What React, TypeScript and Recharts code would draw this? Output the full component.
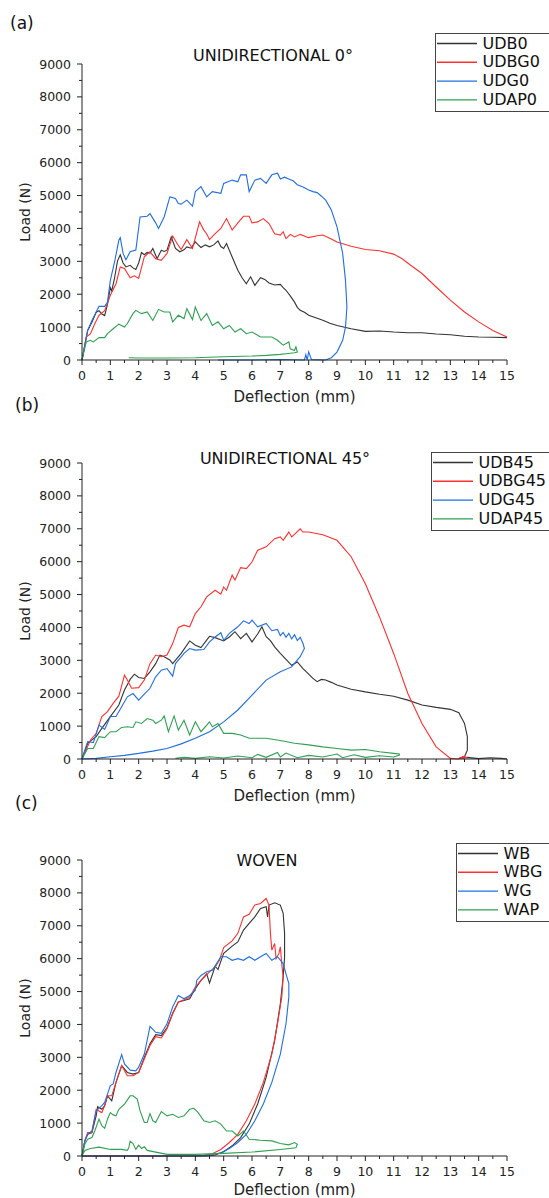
import React from 'react';
import { LineChart, Line, XAxis, YAxis } from 'recharts';

// tick values shared by the three panels
const deflectionTicks = [
  0, 0.5, 1, 1.5, 2, 2.5, 3, 3.5, 4, 4.5, 5, 5.5, 6, 6.5, 7, 7.5,
  8, 8.5, 9, 9.5, 10, 10.5, 11, 11.5, 12, 12.5, 13, 13.5, 14, 14.5, 15,
];
const loadTicks = [
  0, 500, 1000, 1500, 2000, 2500, 3000, 3500, 4000, 4500,
  5000, 5500, 6000, 6500, 7000, 7500, 8000, 8500, 9000,
];

type Pt = [number, number]; // [deflection mm, load N]

// (a) unidirectional 0°
const udb0: Pt[] = [
  [0, 0], [0.1, 450], [0.2, 900], [0.35, 1150], [0.5, 1450], [0.6, 1500], [0.7, 1400], [0.8, 1350],
  [0.9, 1700], [1.0, 2200], [1.05, 2100], [1.15, 2500], [1.25, 3000], [1.35, 3200], [1.45, 2950],
  [1.55, 2830], [1.7, 2880], [1.8, 2800], [1.9, 2750], [2.0, 2950], [2.1, 3270], [2.2, 3200],
  [2.3, 3270], [2.4, 3250], [2.5, 3390], [2.65, 3080], [2.8, 3340], [2.9, 3300], [3.0, 3340],
  [3.15, 3740], [3.3, 3390], [3.45, 3290], [3.6, 3350], [3.7, 3440], [3.85, 3400], [4.0, 3590],
  [4.1, 3500], [4.2, 3420], [4.35, 3500], [4.5, 3440], [4.65, 3500], [4.8, 3620], [4.9, 3450],
  [5.0, 3390], [5.1, 3540], [5.3, 3130], [5.5, 2730], [5.65, 2500], [5.8, 2320], [5.95, 2530],
  [6.1, 2270], [6.3, 2500], [6.45, 2450], [6.6, 2340], [6.8, 2280], [7.0, 2300], [7.1, 2200],
  [7.2, 2120], [7.35, 1950], [7.5, 1760], [7.6, 1600], [7.7, 1510], [7.85, 1450], [8.0, 1360],
  [8.2, 1300], [8.5, 1210], [8.75, 1120], [9.0, 1050], [9.5, 950], [10, 870], [10.5, 880],
  [11, 850], [11.5, 830], [12, 830], [12.5, 790], [13, 770], [13.5, 720], [14, 700], [14.5, 690],
  [15, 680],
];
const udbg0: Pt[] = [
  [0, 0], [0.15, 700], [0.3, 800], [0.45, 1100], [0.6, 1360], [0.8, 1500], [1.0, 1970], [1.2, 2320],
  [1.35, 2830], [1.5, 2780], [1.7, 2500], [1.85, 2560], [2.0, 2480], [2.2, 3140], [2.4, 3290],
  [2.6, 3080], [2.8, 3030], [3.0, 3240], [3.2, 3770], [3.35, 3550], [3.5, 3360], [3.7, 3660],
  [3.9, 3390], [4.15, 4200], [4.3, 3950], [4.4, 3840], [4.5, 3660], [4.7, 3840], [4.9, 4000],
  [5.1, 4300], [5.3, 3950], [5.5, 4170], [5.7, 4370], [5.9, 4370], [6.0, 4170], [6.2, 4200],
  [6.4, 4300], [6.6, 4150], [6.8, 3840], [7.0, 3800], [7.1, 3900], [7.2, 3690], [7.35, 3820],
  [7.5, 3740], [7.7, 3820], [8.0, 3720], [8.3, 3780], [8.5, 3800], [8.8, 3680], [9.0, 3590],
  [9.5, 3460], [10, 3360], [10.5, 3320], [11, 3220], [11.3, 3080], [11.6, 2880], [12, 2630],
  [12.5, 2220], [13, 1820], [13.5, 1460], [14, 1160], [14.5, 900], [15, 700],
];
const udg0: Pt[] = [
  [0, 0], [0.2, 900], [0.35, 1200], [0.5, 1460], [0.6, 1630], [0.8, 1630], [0.9, 1760], [1.0, 2420],
  [1.15, 2980], [1.3, 3640], [1.35, 3720], [1.45, 3240], [1.55, 3050], [1.7, 3290], [1.9, 3340],
  [2.05, 4350], [2.3, 4370], [2.4, 4450], [2.6, 4170], [2.7, 4000], [2.9, 4350], [3.1, 4960],
  [3.3, 4910], [3.4, 4760], [3.5, 4740], [3.7, 4860], [3.9, 4680], [4.0, 5120], [4.2, 5270],
  [4.4, 4960], [4.6, 5120], [4.9, 5070], [5.0, 5370], [5.3, 5470], [5.5, 5420], [5.6, 5630],
  [5.8, 5630], [5.9, 5120], [6.1, 5470], [6.3, 5520], [6.5, 5370], [6.7, 5630], [6.9, 5680],
  [7.0, 5500], [7.15, 5560], [7.3, 5500], [7.45, 5450], [7.6, 5330], [7.8, 5260], [8.0, 5170],
  [8.15, 5120], [8.3, 5090], [8.45, 4980], [8.6, 4860], [8.8, 4560], [9.0, 4050], [9.2, 3240],
  [9.3, 2420], [9.35, 1610], [9.3, 1000], [9.2, 600], [9.0, 240], [8.8, 70], [8.6, 0], [8.1, 10],
  [8.0, 250], [7.95, 0], [7.9, 160], [7.85, 0], [7.0, 15], [6.0, 0], [4.8, 0],
];
const udap0: Pt[] = [
  [0, 0], [0.15, 550], [0.3, 600], [0.4, 550], [0.6, 680], [0.8, 680], [0.9, 800], [1.1, 950],
  [1.3, 1090], [1.5, 1000], [1.6, 1110], [1.8, 1410], [1.9, 1510], [2.1, 1410], [2.3, 1460],
  [2.5, 1200], [2.7, 1540], [2.9, 1460], [3.1, 1460], [3.2, 1160], [3.4, 1360], [3.6, 1260],
  [3.7, 1560], [3.9, 1230], [4.0, 1610], [4.2, 1200], [4.4, 1410], [4.6, 1050], [4.8, 1160],
  [5.0, 950], [5.2, 1050], [5.4, 850], [5.6, 950], [5.8, 800], [6.0, 850], [6.3, 700], [6.7, 700],
  [6.9, 600], [7.1, 450], [7.3, 550], [7.35, 340], [7.5, 290], [7.55, 400], [7.6, 240], [7.5, 220],
  [7.2, 190], [7.0, 170], [6.5, 140], [6.0, 120], [5.0, 100], [4.0, 70], [3.0, 60], [2.0, 60],
  [1.65, 70],
];

// (b) unidirectional 45°
const udb45: Pt[] = [
  [0, 0], [0.2, 480], [0.35, 580], [0.5, 680], [0.7, 930], [1.0, 1290], [1.3, 1640], [1.5, 2100],
  [1.7, 2420], [1.85, 2580], [2.0, 2480], [2.2, 2450], [2.4, 2650], [2.6, 2900], [2.75, 3160],
  [2.9, 3110], [3.1, 3010], [3.2, 2900], [3.5, 3210], [3.8, 3590], [4.0, 3460], [4.2, 3390],
  [4.5, 3730], [4.7, 3690], [5.0, 3590], [5.2, 3710], [5.4, 3870], [5.6, 3660], [5.8, 3820],
  [6.0, 3560], [6.2, 3800], [6.35, 4020], [6.5, 3720], [6.65, 3600], [6.8, 3410], [7.0, 3210],
  [7.2, 3030], [7.4, 2850], [7.6, 2950], [7.8, 2750], [8.0, 2580], [8.15, 2450], [8.3, 2350],
  [8.45, 2420], [8.6, 2400], [8.8, 2330], [9.0, 2250], [9.5, 2120], [10, 2040], [10.5, 1970],
  [11, 1910], [11.5, 1790], [12, 1640], [12.5, 1570], [13, 1510], [13.3, 1410], [13.5, 1080],
  [13.6, 680], [13.6, 270], [13.5, 70], [13.3, 20], [13.6, 50], [14.0, 10], [14.4, 40], [14.8, 20],
  [15, 0],
];
const udbg45: Pt[] = [
  [0, 0], [0.3, 580], [0.5, 780], [0.7, 1290], [0.9, 1440], [1.1, 1690], [1.3, 1910], [1.5, 2550],
  [1.6, 2400], [1.75, 2150], [2.0, 2170], [2.2, 2400], [2.4, 2900], [2.6, 3160], [2.8, 3110],
  [3.0, 3160], [3.2, 3510], [3.4, 4000], [3.6, 4070], [3.8, 4020], [4.0, 4420], [4.2, 4630],
  [4.4, 4930], [4.7, 5130], [4.9, 5010], [5.0, 5230], [5.1, 5130], [5.3, 5590], [5.4, 5440],
  [5.6, 5820], [5.8, 5790], [6.0, 5990], [6.2, 6350], [6.5, 6450], [6.8, 6700], [7.0, 6750],
  [7.1, 6650], [7.3, 6900], [7.4, 6750], [7.5, 6830], [7.7, 7000], [7.8, 6900], [8.0, 6900],
  [8.5, 6820], [9.0, 6650], [9.5, 6150], [10, 5330], [10.5, 4320], [11, 3210], [11.5, 1990],
  [12, 1080], [12.5, 370], [13, 20], [13.3, 0], [13.45, 80], [13.6, 40], [13.4, 60], [13.5, 0],
];
const udg45: Pt[] = [
  [0, 0], [0.2, 530], [0.4, 500], [0.6, 1030], [0.8, 900], [1.0, 1290], [1.2, 1290], [1.4, 1590],
  [1.6, 1890], [1.8, 1990], [2.0, 1790], [2.2, 1970], [2.4, 2150], [2.6, 2500], [2.8, 2700],
  [3.0, 2750], [3.2, 2520], [3.3, 2900], [3.6, 3210], [3.8, 3360], [4.0, 3310], [4.3, 3330],
  [4.5, 3560], [4.7, 3710], [4.9, 3840], [5.0, 3610], [5.2, 3820], [5.5, 4020], [5.7, 4200],
  [5.9, 4120], [6.0, 4220], [6.2, 4020], [6.5, 4120], [6.7, 3900], [6.9, 3940], [7.0, 3750],
  [7.1, 3850], [7.2, 3700], [7.3, 3820], [7.4, 3650], [7.5, 3780], [7.6, 3600], [7.7, 3700],
  [7.8, 3510], [7.85, 3360], [7.7, 3110], [7.4, 2800], [7.0, 2650], [6.5, 2400], [6.0, 1940],
  [5.5, 1490], [5.0, 1130], [4.5, 830], [4.0, 630], [3.5, 460], [3.0, 320], [2.5, 240], [2.0, 170],
  [1.5, 110], [1.0, 70], [0.5, 20], [0, 0],
];
const udap45: Pt[] = [
  [0, 0], [0.2, 320], [0.4, 320], [0.6, 680], [0.8, 650], [1.0, 830], [1.2, 830], [1.4, 960],
  [1.6, 980], [1.8, 960], [1.9, 1130], [2.1, 1080], [2.3, 1230], [2.5, 1180], [2.6, 1080],
  [2.8, 1180], [2.9, 1310], [3.05, 830], [3.25, 1310], [3.4, 880], [3.6, 1180], [3.8, 730],
  [4.0, 1130], [4.2, 830], [4.5, 1130], [4.6, 980], [4.8, 1080], [5.0, 780], [5.3, 780], [5.6, 730],
  [5.9, 630], [6.2, 630], [6.5, 630], [7.0, 560], [7.5, 480], [8.0, 430], [8.5, 370], [9.0, 320],
  [9.5, 270], [10.0, 290], [10.5, 220], [11.0, 170], [11.2, 150], [11.2, 120], [11.0, 60],
  [10.5, 100], [10.0, 50], [9.6, 130], [9.2, 40], [9.0, 150], [8.5, 60], [8.0, 110], [7.6, 40],
  [7.2, 180], [7.0, 60], [6.9, 200], [6.5, 50], [6.2, 140], [6.0, 40], [5.5, 90], [5.0, 30],
  [4.5, 70], [4.0, 20], [3.6, 50], [3.3, 20],
];

// (c) woven
const wb: Pt[] = [
  [0, 0], [0.1, 460], [0.2, 660], [0.35, 710], [0.5, 1220], [0.55, 1500], [0.7, 1420], [0.8, 1530],
  [0.9, 1830], [1.05, 1680], [1.2, 2240], [1.4, 2750], [1.6, 2540], [1.8, 2490], [2.0, 2540],
  [2.2, 3000], [2.4, 3410], [2.6, 3690], [2.8, 3660], [3.0, 3900], [3.2, 4340], [3.4, 4680],
  [3.6, 4730], [3.8, 4780], [4.0, 5090], [4.2, 5340], [4.4, 5540], [4.5, 5260], [4.7, 5770],
  [4.8, 5670], [5.0, 6160], [5.3, 6380], [5.5, 6510], [5.7, 6870], [5.9, 7070], [6.1, 7270],
  [6.3, 7530], [6.5, 7580], [6.55, 7270], [6.6, 7630], [6.8, 7700], [7.0, 7630], [7.1, 7380],
  [7.15, 6770], [7.15, 6050], [7.1, 5440], [7.0, 4630], [6.8, 3510], [6.5, 2390], [6.2, 1580],
  [5.9, 970], [5.6, 560], [5.3, 310], [5.0, 130], [4.7, 30], [4.4, 0], [2.0, 0], [0, 0],
];
const wbg: Pt[] = [
  [0, 0], [0.1, 460], [0.2, 710], [0.35, 710], [0.5, 1420], [0.6, 1370], [0.7, 1320], [0.8, 1530],
  [0.9, 1830], [1.05, 1830], [1.2, 2240], [1.4, 2750], [1.6, 2440], [1.8, 2440], [2.0, 2540],
  [2.2, 2950], [2.4, 3360], [2.6, 3630], [2.8, 3590], [3.0, 3870], [3.2, 4320], [3.4, 4680],
  [3.6, 4750], [3.8, 4830], [4.0, 5140], [4.2, 5340], [4.5, 5600], [4.7, 5750], [4.85, 5950],
  [5.0, 6340], [5.3, 6540], [5.5, 6770], [5.7, 7270], [5.9, 7350], [6.1, 7630], [6.3, 7680],
  [6.5, 7830], [6.6, 7630], [6.65, 6770], [6.7, 6260], [6.8, 6460], [6.85, 6000], [6.95, 6160],
  [7.0, 6360], [7.05, 5850], [7.1, 5440], [7.05, 4830], [6.9, 4020], [6.7, 3100], [6.4, 2240],
  [6.1, 1580], [5.8, 1070], [5.5, 660], [5.2, 410], [4.9, 200], [4.6, 70], [4.3, 20], [4.0, 0],
  [0, 0],
];
const wg: Pt[] = [
  [0, 0], [0.1, 460], [0.2, 660], [0.35, 760], [0.5, 1370], [0.7, 1530], [0.8, 1630], [0.9, 1880],
  [1.0, 2140], [1.1, 2190], [1.2, 2540], [1.4, 3080], [1.5, 2800], [1.7, 2610], [1.9, 2590],
  [2.0, 2700], [2.2, 3100], [2.4, 3940], [2.6, 3760], [2.8, 3730], [3.0, 4020], [3.2, 4530],
  [3.4, 4880], [3.6, 4780], [3.8, 4880], [4.0, 5040], [4.05, 5340], [4.2, 5490], [4.4, 5600],
  [4.6, 5650], [4.75, 5850], [4.9, 6060], [5.1, 6060], [5.3, 5950], [5.5, 6000], [5.7, 5950],
  [5.9, 6060], [6.1, 5950], [6.3, 6060], [6.5, 6160], [6.7, 5950], [6.9, 6060], [7.1, 5850],
  [7.2, 5540], [7.3, 5240], [7.3, 4830], [7.2, 4020], [7.0, 3100], [6.7, 2240], [6.4, 1580],
  [6.1, 1070], [5.8, 660], [5.5, 410], [5.2, 230], [4.9, 100], [4.6, 40], [4.3, 10], [4.0, 0],
  [0, 0],
];
const wap: Pt[] = [
  [0, 0], [0.1, 360], [0.2, 510], [0.35, 560], [0.45, 760], [0.6, 1120], [0.7, 920], [0.8, 840],
  [0.9, 1120], [1.0, 1320], [1.1, 1250], [1.2, 1220], [1.3, 1420], [1.5, 1580], [1.7, 1830],
  [1.8, 1830], [1.95, 1730], [2.05, 1370], [2.2, 1020], [2.3, 1020], [2.4, 1290], [2.5, 1070],
  [2.6, 1020], [2.8, 1350], [3.0, 1220], [3.2, 1270], [3.4, 1170], [3.6, 1220], [3.8, 1420],
  [3.95, 1450], [4.1, 1320], [4.3, 1070], [4.5, 1020], [4.7, 1070], [4.9, 970], [5.1, 760],
  [5.3, 760], [5.5, 610], [5.7, 760], [5.9, 510], [6.3, 480], [6.7, 460], [7.0, 380], [7.3, 340],
  [7.5, 410], [7.6, 360], [7.55, 250], [7.0, 200], [6.0, 120], [5.0, 80], [4.0, 50], [3.0, 50],
  [2.3, 170], [2.2, 280], [2.1, 230], [2.0, 330], [1.9, 200], [1.8, 380], [1.7, 450], [1.65, 250],
  [1.6, 170], [1.4, 200], [1.0, 200], [0.6, 270], [0.3, 230], [0.1, 170], [0, 0],
];

const FONT = '"DejaVu Sans", sans-serif';
const INK = '#222';
const BLACK = '#333333';
const RED = '#ff3030';
const BLUE = '#1f6fe0';
const GREEN = '#2fa052';

type Series = { name: string; color: string; data: Pt[] };

const panels = [
  {
    letter: '(a)', title: 'UNIDIRECTIONAL 0°', top: 0, labelOffset: 0,
    letterPos: { left: 10, y: 23 }, titlePos: { x: 273, y: 56 }, legendPos: { left: 435, top: 33 },
    series: [
      { name: 'UDB0', color: BLACK, data: udb0 },
      { name: 'UDBG0', color: RED, data: udbg0 },
      { name: 'UDG0', color: BLUE, data: udg0 },
      { name: 'UDAP0', color: GREEN, data: udap0 },
    ] as Series[],
  },
  {
    letter: '(b)', title: 'UNIDIRECTIONAL 45°', top: 399, labelOffset: 0,
    letterPos: { left: 15, y: 6 }, titlePos: { x: 285, y: 60 }, legendPos: { left: 431, top: 53 },
    series: [
      { name: 'UDB45', color: BLACK, data: udb45 },
      { name: 'UDBG45', color: RED, data: udbg45 },
      { name: 'UDG45', color: BLUE, data: udg45 },
      { name: 'UDAP45', color: GREEN, data: udap45 },
    ] as Series[],
  },
  {
    letter: '(c)', title: 'WOVEN', top: 796, labelOffset: 3,
    letterPos: { left: 15, y: 7 }, titlePos: { x: 267, y: 65 }, legendPos: { left: 456, top: 47 },
    series: [
      { name: 'WB', color: BLACK, data: wb },
      { name: 'WBG', color: RED, data: wbg },
      { name: 'WG', color: BLUE, data: wg },
      { name: 'WAP', color: GREEN, data: wap },
    ] as Series[],
  },
];

const YTick = ({ x, y, payload }: any) => {
  const major = payload.value % 1000 === 0;
  return (
    <g>
      <line x1={x - (major ? 5 : 3)} x2={x} y1={y} y2={y} stroke={INK} strokeWidth={1} />
      {major && (
        <text x={x - 11} y={y} dy="0.36em" textAnchor="end" fontSize={12.5} fontFamily={FONT} fill={INK}>
          {payload.value}
        </text>
      )}
    </g>
  );
};

const XTick = ({ x, y, payload }: any) => {
  const major = Number.isInteger(payload.value);
  return (
    <g>
      <line x1={x} x2={x} y1={y} y2={y + (major ? 5 : 3)} stroke={INK} strokeWidth={1} />
      {major && (
        <text x={x} y={y + 19.5} textAnchor="middle" fontSize={12.5} fontFamily={FONT} fill={INK}>
          {payload.value}
        </text>
      )}
    </g>
  );
};

const LegendBox = ({ series, left, top }: { series: Series[]; left: number; top: number }) => (
  <div
    style={{
      position: 'absolute', left, top, width: 140, height: 79, boxSizing: 'border-box',
      border: '1.5px solid #444', background: '#fff',
    }}
  >
    <svg width={44} height={76} style={{ position: 'absolute', left: 0, top: 0 }}>
      {series.map((s, i) => {
        const cy = 9.5 + i * 18.8;
        return <line key={s.name} x1={1} x2={41} y1={cy} y2={cy} stroke={s.color} strokeWidth={1.4} />;
      })}
    </svg>
    {series.map((s, i) => (
      <div
        key={s.name}
        style={{
          position: 'absolute', left: 46.5, top: 9.5 + i * 18.8, transform: 'translateY(-50%)',
          whiteSpace: 'nowrap', fontFamily: FONT, fontSize: 16, lineHeight: 1, color: '#111',
        }}
      >
        {s.name}
      </div>
    ))}
  </div>
);

const Panel = ({ p }: { p: (typeof panels)[number] }) => (
  <div style={{ position: 'absolute', left: 0, top: p.top, width: 549, height: 410 }}>
    <LineChart width={549} height={410} margin={{ top: 64, right: 42, left: 0, bottom: 8 }}>
      <XAxis
        type="number"
        dataKey="x"
        domain={[0, 15]}
        ticks={deflectionTicks}
        interval={0}
        tick={<XTick />}
        tickLine={false}
        tickSize={0}
        tickMargin={0}
        height={42}
        stroke={INK}
        label={{
          value: 'Deflection (mm)', position: 'insideBottom', offset: p.labelOffset,
          style: { fontFamily: FONT, fontSize: 15, fill: INK },
        }}
      />
      <YAxis
        type="number"
        domain={[0, 9000]}
        ticks={loadTicks}
        interval={0}
        tick={<YTick />}
        tickLine={false}
        tickSize={0}
        tickMargin={0}
        width={82}
        stroke={INK}
        label={{
          value: 'Load (N)', angle: -90, position: 'insideLeft', offset: 25,
          style: { textAnchor: 'middle', fontFamily: FONT, fontSize: 14, fill: INK },
        }}
      />
      {p.series.map((s) => (
        <Line
          key={s.name}
          data={s.data.map(([x, y]) => ({ x, y }))}
          dataKey="y"
          type="linear"
          stroke={s.color}
          strokeWidth={1.1}
          dot={false}
          activeDot={false}
          isAnimationActive={false}
        />
      ))}
    </LineChart>
    <div
      style={{
        position: 'absolute', left: p.letterPos.left, top: p.letterPos.y, transform: 'translateY(-50%)',
        fontFamily: FONT, fontSize: 17, lineHeight: 1, color: '#111',
      }}
    >
      {p.letter}
    </div>
    <div
      style={{
        position: 'absolute', left: p.titlePos.x, top: p.titlePos.y, transform: 'translate(-50%, -50%)',
        fontFamily: FONT, fontSize: 16, lineHeight: 1, color: '#111', whiteSpace: 'nowrap',
      }}
    >
      {p.title}
    </div>
    <LegendBox series={p.series} left={p.legendPos.left} top={p.legendPos.top} />
  </div>
);

export default function App() {
  return (
    <div
      style={{
        position: 'absolute', left: 0, top: 0, width: 549, height: 1198, overflow: 'hidden',
        background: '#fff',
      }}
    >
      {panels.map((p) => (
        <Panel key={p.letter} p={p} />
      ))}
    </div>
  );
}
